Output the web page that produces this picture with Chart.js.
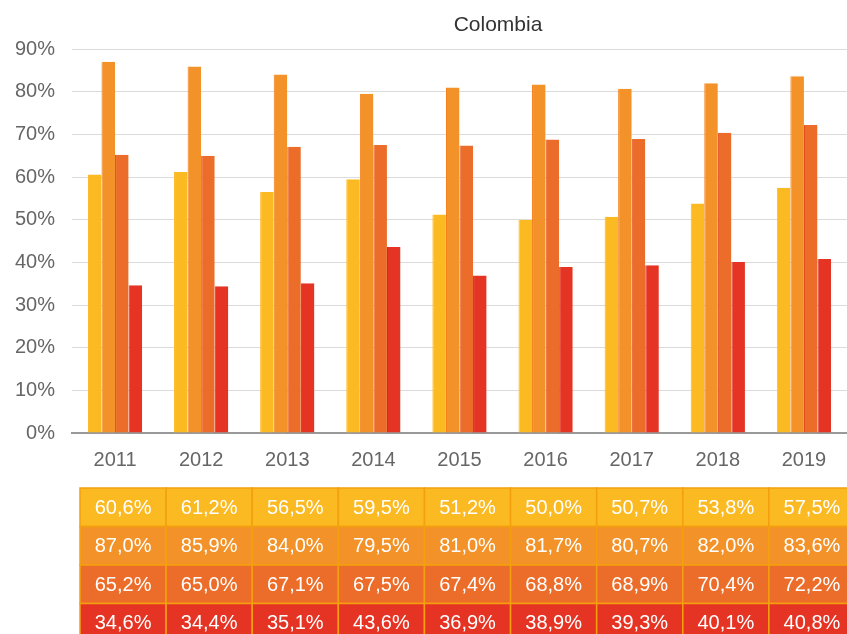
<!DOCTYPE html>
<html>
<head>
<meta charset="utf-8">
<title>Colombia</title>
<script src="https://cdn.jsdelivr.net/npm/chart.js@4.4.1/dist/chart.umd.min.js"></script>
<style>
  html, body { margin: 0; padding: 0; background: #fff; }
  #wrap { position: relative; width: 847px; height: 634px; }
</style>
</head>
<body>
<div id="wrap"><canvas id="chart"></canvas></div>
<script>
  // 数据
  const years = ['2011', '2012', '2013', '2014', '2015', '2016', '2017', '2018', '2019'];
  const serie1 = [60.6, 61.2, 56.5, 59.5, 51.2, 50.0, 50.7, 53.8, 57.5];
  const serie2 = [87.0, 85.9, 84.0, 79.5, 81.0, 81.7, 80.7, 82.0, 83.6];
  const serie3 = [65.2, 65.0, 67.1, 67.5, 67.4, 68.8, 68.9, 70.4, 72.2];
  const serie4 = [34.6, 34.4, 35.1, 43.6, 36.9, 38.9, 39.3, 40.1, 40.8];
  const yTicks = [0, 10, 20, 30, 40, 50, 60, 70, 80, 90];

  const colors = ['#FBB922', '#F29228', '#EC6C29', '#E53424'];
  const FONT = "'Helvetica Neue', 'Liberation Sans', Arial, sans-serif";

  /**
   * 把数值格式化成 "60,6%"
   */
  function fmt(v) {
    return v.toFixed(1).replace('.', ',') + '%';
  }

  // 标题
  const titlePlugin = {
    id: 'titleText',
    afterDraw(chart) {
      const ctx = chart.ctx;
      ctx.save();
      ctx.font = '21px ' + FONT;
      ctx.fillStyle = '#333';
      ctx.textAlign = 'center';
      ctx.textBaseline = 'middle';
      ctx.fillText('Colombia', 498, 25);
      ctx.restore();
    }
  };

  // 下方数据表
  const tablePlugin = {
    id: 'dataTable',
    afterDraw(chart) {
      const ctx = chart.ctx;
      const x = chart.scales.x;
      const rows = [serie1, serie2, serie3, serie4];
      const colW = x.width / years.length;
      const top = chart.chartArea.bottom + 55;
      const rowH = 38.5;
      ctx.save();
      ctx.font = '20px ' + FONT;
      ctx.textAlign = 'center';
      ctx.textBaseline = 'middle';
      rows.forEach((row, r) => {
        row.forEach((v, i) => {
          const left = x.getPixelForValue(i) - colW / 2 + 8;
          const y = top + r * rowH;
          ctx.fillStyle = colors[r];
          ctx.fillRect(left, y, colW, rowH);
          ctx.strokeStyle = '#F4A00E';
          ctx.lineWidth = 1.5;
          ctx.strokeRect(left, y, colW, rowH);
          ctx.fillStyle = '#fff';
          ctx.fillText(fmt(v), left + colW / 2, y + rowH / 2 + 1);
        });
      });
      ctx.restore();
    }
  };

  function bars(label, data, color, edge) {
    return {
      label: label,
      data: data,
      backgroundColor: color,
      borderColor: edge,
      borderWidth: { left: 1, right: 0, top: 0, bottom: 0 },
      borderSkipped: false,
      categoryPercentage: 0.63,
      barPercentage: 1.0
    };
  }

  new Chart(document.getElementById('chart'), {
    type: 'bar',
    data: {
      labels: years,
      datasets: [
        bars('Serie 1', serie1, colors[0], colors[0]),
        bars('Serie 2', serie2, colors[1], '#F47A10'),
        bars('Serie 3', serie3, colors[2], '#E0400F'),
        bars('Serie 4', serie4, colors[3], '#D02010')
      ]
    },
    options: {
      responsive: true,
      maintainAspectRatio: false,
      animation: false,
      layout: { padding: { top: 49, left: 0, right: 0, bottom: 0 } },
      plugins: {
        legend: { display: false },
        tooltip: { enabled: false }
      },
      scales: {
        x: {
          z: 1,
          grid: { display: false, drawTicks: false },
          border: { display: true, color: '#999', width: 2 },
          ticks: { color: '#666', font: { family: FONT, size: 20 }, padding: 15 },
          afterFit(scale) { scale.height = 201; }
        },
        y: {
          z: 1,
          min: 0,
          max: 90,
          afterBuildTicks(scale) { scale.ticks = yTicks.map(v => ({ value: v })); },
          grid: { color: 'rgba(0,0,0,0.14)', lineWidth: 1, drawTicks: false },
          border: { display: false },
          ticks: {
            color: '#666',
            font: { family: FONT, size: 20 },
            padding: 17,
            callback: v => v + '%'
          },
          afterFit(scale) { scale.width = 72; }
        }
      }
    },
    plugins: [titlePlugin, tablePlugin]
  });
</script>
</body>
</html>
